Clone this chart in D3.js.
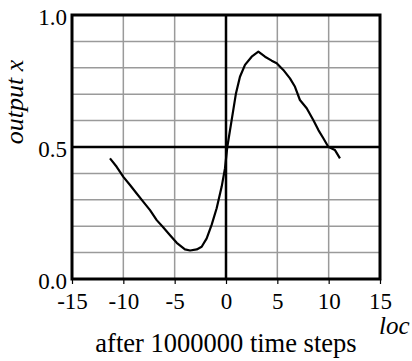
<!DOCTYPE html>
<html>
<head>
<meta charset="utf-8">
<script src="https://cdn.jsdelivr.net/npm/d3@7"></script>
<style>
  body { margin: 0; background: #fff; }
  svg text { font-family: "Liberation Serif", "Times New Roman", Times, serif; }
</style>
</head>
<body>
<div id="chart"></div>
<script>
// curve
var locs    = [-11.3, -10.65, -10.0, -9.35, -8.7, -8.05, -7.4, -6.75, -6.1, -5.45, -4.8, -4.0, -3.5, -2.85, -2.37, -1.88, -1.4, -0.91, -0.42, -0.1,
               0.13, 0.55, 0.97, 1.36, 1.85, 2.5, 3.15, 3.8, 4.45, 4.94, 5.58, 6.23, 6.72, 7.2, 7.86, 8.5, 9.0, 9.48, 9.96, 10.6, 11.1];
var outputs = [0.457, 0.425, 0.387, 0.356, 0.324, 0.292, 0.261, 0.223, 0.195, 0.166, 0.137, 0.112, 0.108, 0.112, 0.122, 0.154, 0.205, 0.268, 0.350, 0.419,
               0.501, 0.602, 0.703, 0.766, 0.811, 0.842, 0.861, 0.842, 0.827, 0.817, 0.792, 0.760, 0.728, 0.678, 0.647, 0.602, 0.564, 0.533, 0.501, 0.489, 0.457];
var xTicks = [-15, -10, -5, 0, 5, 10, 15];
var yTicks = [0.0, 0.5, 1.0];
var yGrid  = [0.1, 0.2, 0.3, 0.4, 0.6, 0.7, 0.8, 0.9];

var W = 412, H = 361;
var margin = {top: 15, right: 32, bottom: 82, left: 72};
var serif = "'Liberation Serif', 'Times New Roman', Times, serif";

var data = locs.map(function (d, i) { return {loc: d, out: outputs[i]}; });

var svg = d3.select("#chart").append("svg")
    .attr("width", W)
    .attr("height", H);

var x = d3.scaleLinear().domain([-15, 15]).range([margin.left, W - margin.right]),
    y = d3.scaleLinear().domain([0, 1]).range([H - margin.bottom, margin.top]);

// grid
svg.append("g").selectAll("line.v")
    .data(xTicks.filter(function (d) { return d != 0 && Math.abs(d) != 15; }))
    .enter().append("line")
    .attr("x1", function (d) { return x(d); }).attr("x2", function (d) { return x(d); })
    .attr("y1", y(0)).attr("y2", y(1))
    .attr("stroke", "#9a9a9a").attr("stroke-width", 1.5);

svg.append("g").selectAll("line.h")
    .data(yGrid)
    .enter().append("line")
    .attr("x1", x(-15)).attr("x2", x(15))
    .attr("y1", function (d) { return y(d); }).attr("y2", function (d) { return y(d); })
    .attr("stroke", "#9a9a9a").attr("stroke-width", 1.5);

// heavy zero lines
svg.append("line")
    .attr("x1", x(0)).attr("x2", x(0)).attr("y1", y(0)).attr("y2", y(1))
    .attr("stroke", "#000").attr("stroke-width", 2.5);
svg.append("line")
    .attr("x1", x(-15)).attr("x2", x(15)).attr("y1", y(0.5)).attr("y2", y(0.5))
    .attr("stroke", "#000").attr("stroke-width", 2.5);

// x axis ticks + labels
var xAxis = d3.axisBottom(x).tickValues(xTicks)
    .tickSize(5).tickPadding(9)
    .tickFormat(function (d) { return String(d); });
var gx = svg.append("g")
    .attr("transform", "translate(0," + y(0) + ")")
    .call(xAxis)
    .attr("font-family", serif);
gx.select(".domain").remove();
gx.selectAll("line").attr("stroke", "#000").attr("stroke-width", 1.2);
gx.selectAll("text").attr("font-size", 23).attr("fill", "#000")
    .attr("font-family", serif);

// y labels
svg.append("g").selectAll("text")
    .data(yTicks)
    .enter().append("text")
    .attr("x", x(-15) - 5)
    .attr("y", function (d) { return y(d) + 10; })
    .attr("text-anchor", "end")
    .attr("font-family", serif)
    .attr("font-size", 23)
    .text(function (d) { return d.toFixed(1); });

// frame
svg.append("rect")
    .attr("x", x(-15)).attr("y", y(1))
    .attr("width", x(15) - x(-15)).attr("height", y(0) - y(1))
    .attr("fill", "none").attr("stroke", "#000").attr("stroke-width", 3);

// the curve
var line = d3.line()
    .x(function (d) { return x(d.loc); })
    .y(function (d) { return y(d.out); });

svg.append("path")
    .datum(data)
    .attr("d", line)
    .attr("fill", "none")
    .attr("stroke", "#000")
    .attr("stroke-width", 2.2)
    .attr("stroke-linejoin", "round");

// labels
svg.append("text")
    .attr("transform", "translate(23," + 102 + ") rotate(-90)")
    .attr("text-anchor", "middle")
    .attr("font-family", serif)
    .attr("font-size", 26)
    .attr("font-style", "italic")
    .text("output x");

svg.append("text")
    .attr("x", 379).attr("y", 334)
    .attr("font-family", serif)
    .attr("font-size", 25)
    .attr("font-style", "italic")
    .text("loc");

svg.append("text")
    .attr("x", x(0)).attr("y", 352)
    .attr("text-anchor", "middle")
    .attr("font-family", serif)
    .attr("font-size", 26.5)
    .text("after 1000000 time steps");
</script>
</body>
</html>
